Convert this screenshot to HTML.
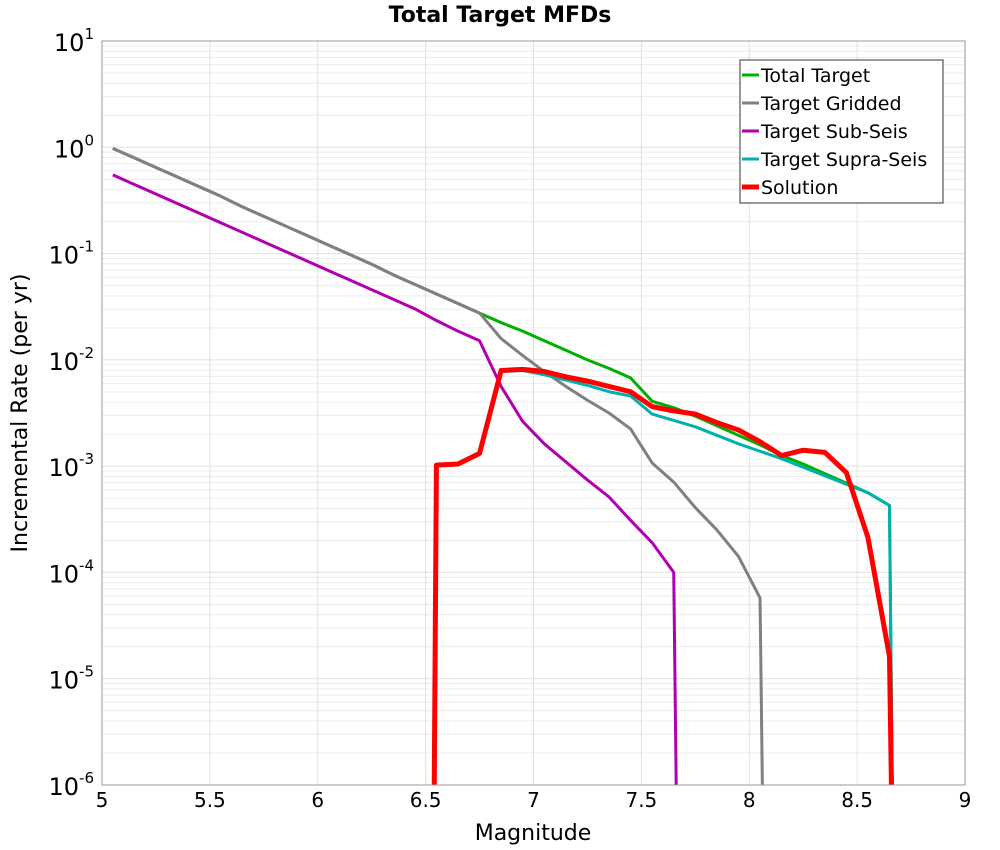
<!DOCTYPE html>
<html><head><meta charset="utf-8"><style>
html,body{margin:0;padding:0;background:#fff;font-family:"Liberation Sans",sans-serif;overflow:hidden;width:1000px;height:850px}
svg{display:block}
</style></head><body>
<svg id="chart" width="1000" height="850" xmlns="http://www.w3.org/2000/svg" font-family="DejaVu Sans, Liberation Sans, sans-serif">
<text x="500" y="22" text-anchor="middle" font-size="22" font-weight="bold">Total Target MFDs</text>
<g id="grid"></g><g id="series"></g><g id="axes"></g>
<text x="533" y="840" text-anchor="middle" font-size="22">Magnitude</text>
<text transform="translate(27,413) rotate(-90)" text-anchor="middle" font-size="22">Incremental Rate (per yr)</text>
<g>
<rect x="740" y="60" width="203" height="143" fill="#fff" stroke="#333" stroke-width="1"/>
<g id="legend-items"></g>
</g>
</svg>
<script>
const mags = [5.05,5.15,5.25,5.35,5.45,5.55,5.65,5.75,5.85,5.95,6.05,6.15,6.25,6.35,6.45,6.55,6.65,6.75,6.85,6.95,7.05,7.15,7.25,7.35,7.45,7.55,7.65,7.75,7.85,7.95,8.05,8.15,8.25,8.35,8.45,8.55,8.65];
// log10 of incremental rate
const totalLog = [-0.01,-0.10,-0.19,-0.28,-0.37,-0.46,-0.56,-0.65,-0.74,-0.83,-0.92,-1.01,-1.10,-1.20,-1.29,-1.38,-1.47,-1.56,-1.65,-1.73,-1.82,-1.91,-2.00,-2.08,-2.17,-2.39,-2.45,-2.53,-2.62,-2.71,-2.80,-2.90,-2.98,-3.07,-3.16,-3.25,-3.37];
const griddedLog = [-0.01,-0.10,-0.19,-0.28,-0.37,-0.46,-0.56,-0.65,-0.74,-0.83,-0.92,-1.01,-1.10,-1.20,-1.29,-1.38,-1.47,-1.56,-1.80,-1.96,-2.11,-2.25,-2.38,-2.50,-2.65,-2.97,-3.15,-3.39,-3.60,-3.85,-4.24,-9,-9,-9,-9,-9,-9];
const subSeisLog = [-0.26,-0.35,-0.44,-0.53,-0.62,-0.71,-0.80,-0.89,-0.98,-1.07,-1.16,-1.25,-1.34,-1.43,-1.52,-1.63,-1.73,-1.82,-2.25,-2.58,-2.79,-2.96,-3.13,-3.29,-3.51,-3.72,-4.00,-9,-9,-9,-9,-9,-9,-9,-9,-9,-9];
const supraSeisLog = [-9,-9,-9,-9,-9,-9,-9,-9,-9,-9,-9,-9,-9,-9,-9,-9,-9,-9,-2.11,-2.10,-2.14,-2.19,-2.24,-2.30,-2.34,-2.51,-2.57,-2.63,-2.71,-2.79,-2.86,-2.93,-3.01,-3.09,-3.17,-3.25,-3.37];
const solutionLog = [-9,-9,-9,-9,-9,-9,-9,-9,-9,-9,-9,-9,-9,-9,-9,-2.99,-2.98,-2.88,-2.10,-2.09,-2.11,-2.16,-2.20,-2.25,-2.30,-2.44,-2.48,-2.51,-2.59,-2.66,-2.77,-2.90,-2.85,-2.87,-3.06,-3.67,-4.79];
const xTicks = [5,5.5,6,6.5,7,7.5,8,8.5,9];
const yDecades = [1,0,-1,-2,-3,-4,-5,-6];

const L=102,R=965,T=41,B=785;
const xs=m=>L+(m-5)/4*(R-L);
const ys=lg=>T+(1-lg)/7*(B-T);
const NS="http://www.w3.org/2000/svg";
function mk(tag,attrs,parent){const e=document.createElementNS(NS,tag);for(const k in attrs)e.setAttribute(k,attrs[k]);parent.appendChild(e);return e;}
const grid=document.getElementById('grid'),axes=document.getElementById('axes'),ser=document.getElementById('series');
for(let d=-6;d<1;d++){for(let k=2;k<10;k++){const y=ys(d+Math.log10(k));
 const g=mk('line',{x1:L,x2:R,y1:y,y2:y,stroke:'#ececec','stroke-width':1},grid);
 
 }}
yDecades.forEach(d=>{const y=ys(d);
 const g=mk('line',{x1:L,x2:R,y1:y,y2:y,stroke:'#e0e0e0','stroke-width':1},grid);
 
 
 const t=mk('text',{x:L-8,y:y+10,'text-anchor':'end','font-size':24},axes);
 
 
 t.innerHTML='10<tspan dy="-12" font-size="15">'+d+'</tspan>';});
xTicks.forEach(m=>{const x=xs(m);
 const g=mk('line',{x1:x,x2:x,y1:T,y2:B,stroke:'#e0e0e0','stroke-width':1},grid);
 
 
 const t=mk('text',{x:x,y:B+22,'text-anchor':'middle','font-size':20},axes);
 
 
 t.textContent=String(m);});
const fr=mk('rect',{x:L,y:T,width:R-L,height:B-T,fill:'none',stroke:'#999','stroke-width':1},axes);


const defs=mk('clipPath',{id:'clip'},ser);mk('rect',{x:L,y:T,width:R-L,height:B-T},defs);
function pts(arr,lead){const p=[];let prev=null;
 for(let i=0;i<mags.length;i++){
  if(arr[i]>-8){ if(lead&&p.length===0&&i>0) p.push([xs(mags[i]-0.015),ys(-7.5)]); p.push([xs(mags[i]),ys(arr[i])]); prev=i;}
 }
 if(prev!==null) p.push([xs(mags[prev]+0.02),ys(-7.5)]);
 return p.map(q=>q.join(',')).join(' ');}
const series=[
 ['Total Target',totalLog,'#00b000',3,'series-total-target',false],
 ['Target Gridded',griddedLog,'#808080',3,'series-target-gridded',false],
 ['Target Sub-Seis',subSeisLog,'#b000b0',3,'series-target-sub-seis',false],
 ['Target Supra-Seis',supraSeisLog,'#00b0b0',3,'series-target-supra-seis',false],
 ['Solution',solutionLog,'#ff0000',5,'series-solution',true]];
const li=document.getElementById('legend-items');
series.forEach((s,i)=>{
 const pl=mk('polyline',{points:pts(s[1],s[5]),fill:'none',stroke:s[2],'stroke-width':s[3],'stroke-linejoin':'round','clip-path':'url(#clip)'},ser);
 
 
 const y=75+i*28;
 const ll=mk('line',{x1:742,x2:759,y1:y,y2:y,stroke:s[2],'stroke-width':s[3]},li);
 
 
 const t=mk('text',{x:761,y:y+7,'font-size':19},li);
 
 
 t.textContent=s[0];});
</script>
</body></html>
